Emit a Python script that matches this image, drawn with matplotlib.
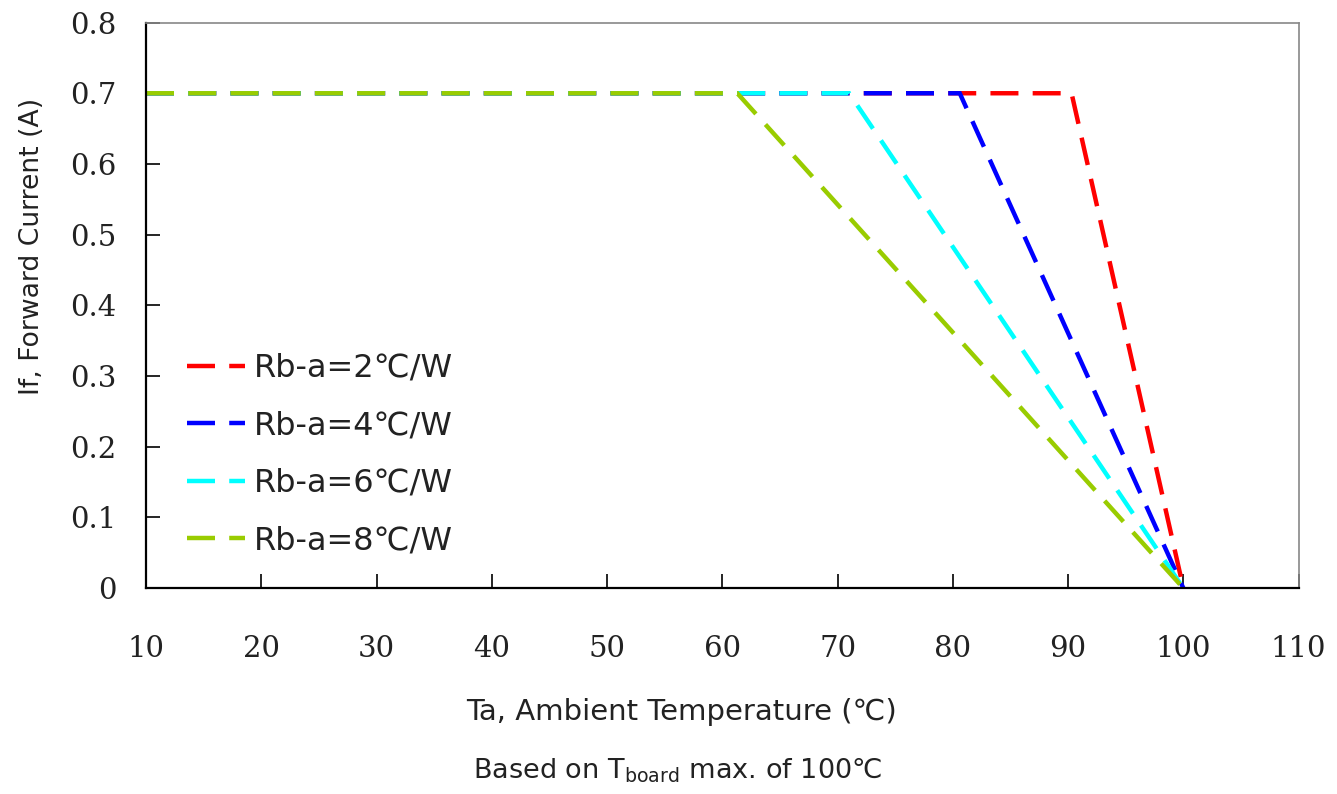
import numpy as np
import matplotlib
matplotlib.use("Agg")
import matplotlib.pyplot as plt

# derating curves: flat at max current until the knee, then linear down to 0 at Tboard max
labels = ["Rb-a=2\u2103/W", "Rb-a=4\u2103/W", "Rb-a=6\u2103/W", "Rb-a=8\u2103/W"]
colors = ["#ff0000", "#0000ff", "#00ffff", "#99cc00"]
t_start = [10, 10, 10, 10]
t_knee = [90.3, 80.6, 71.0, 61.3]
t_end = [100, 100, 100, 100]
i_max = [0.7, 0.7, 0.7, 0.7]

xticks = [10, 20, 30, 40, 50, 60, 70, 80, 90, 100, 110]
yticks = [0, 0.1, 0.2, 0.3, 0.4, 0.5, 0.6, 0.7, 0.8]

fig = plt.figure(figsize=(13.37, 7.94), dpi=100)
ax = fig.add_axes([0.1092, 0.2592, 0.8621, 0.7124])

for lab, c, t0, tk, te, im in zip(labels, colors, t_start, t_knee, t_end, i_max):
    ax.plot([t0, tk, te], [im, im, 0], color=c, lw=3.2, ls=(0, (6.3, 3.2)),
            label=lab, solid_joinstyle="miter", dash_joinstyle="miter")

ax.set_xlim(10, 110)
ax.set_ylim(0, 0.8)
ax.set_xticks(xticks)
ax.set_yticks(yticks)
ax.set_xticklabels([str(v) for v in xticks])
ax.set_yticklabels(["0" if v == 0 else f"{v:.1f}" for v in yticks])

ax.tick_params(direction="in", length=10, width=1.2, colors="black",
               labelsize=21, top=False, right=False)
ax.tick_params(axis="x", pad=34)
ax.tick_params(axis="y", pad=21)
for lab in ax.get_xticklabels() + ax.get_yticklabels():
    lab.set_family("DejaVu Serif")
    lab.set_color("#222222")

for s in ["left", "bottom"]:
    ax.spines[s].set_linewidth(1.6)
    ax.spines[s].set_color("black")
for s in ["top", "right"]:
    ax.spines[s].set_linewidth(1.2)
    ax.spines[s].set_color("#888888")

leg = ax.legend(loc="upper left", bbox_to_anchor=(0.0356, 0.416), frameon=False,
                fontsize=23, handlelength=1.8, handletextpad=0.3,
                labelspacing=0.83, borderaxespad=0, borderpad=0)
for t in leg.get_texts():
    t.set_color("#222222")

fig.text(0.510, 0.103, "Ta, Ambient Temperature (\u2103)", fontsize=21,
         ha="center", va="center", color="#222222")
fig.text(0.507, 0.030, "Based on T$_{\\mathrm{board}}$ max. of 100\u2103", fontsize=19.5,
         ha="center", va="center", color="#222222")
fig.text(0.024, 0.690, "If, Forward Current (A)", fontsize=19.2, rotation=90,
         ha="center", va="center", color="#222222")

fig.savefig("out.png", dpi=100)
